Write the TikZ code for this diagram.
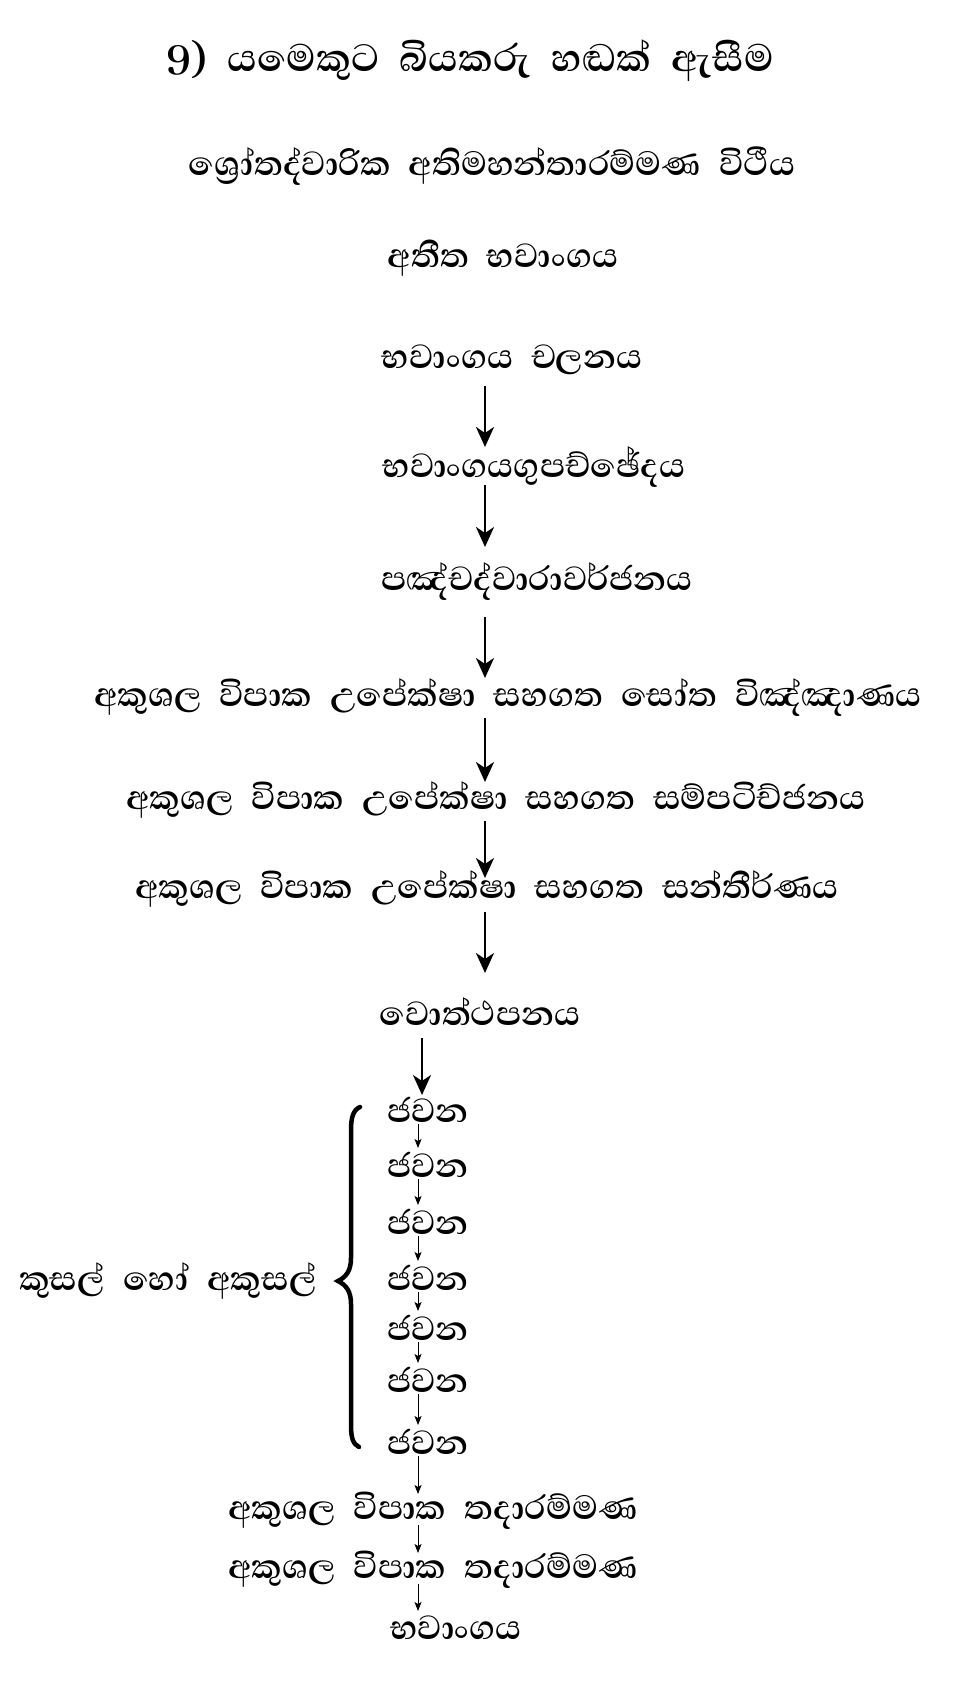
\documentclass[tikz,border=0pt]{standalone}
\usepackage{fontspec}
\setmainfont[Script=Sinhala, WordSpace=2.2]{Abhaya Libre}
\usetikzlibrary{arrows.meta}
\begin{document}
\begin{tikzpicture}[x=1pt,y=-1pt,
  lbl/.style={inner sep=0pt, anchor=center, font=\fontsize{43}{50}\selectfont\bfseries},
  ttl/.style={inner sep=0pt, anchor=center, font=\fontsize{49}{56}\selectfont\bfseries},
  sttl/.style={inner sep=0pt, anchor=center, font=\fontsize{43}{50}\selectfont\bfseries},
  thickarr/.style={line width=2.6pt, -{Stealth[length=20pt,width=18pt,inset=6pt]}},
  thinarr/.style={line width=0.9pt, -{Stealth[length=9pt,width=7pt,inset=2pt]}}]
\useasboundingbox[fill=white] (0,0) rectangle (963,1683);
\coordinate (colA) at (485,0);
\coordinate (colJ) at (422,0);
\coordinate (colB) at (418,0);
\node[ttl] (title) at (470,61) {9) යමෙකුට බියකරු හඬක් ඇසීම};
\node[sttl] (sub) at (492,166) {ශ්‍රෝතද්වාරික අතිමහන්තාරම්මණ විථීය};
\node[lbl] (atita) at (503,258) {අතීත භවාංගය};
\node[lbl] (calana) at (512,360) {භවාංගය චලනය};
\node[lbl] (upac) at (534,467) {භවාංගයගුපච්ඡේදය};
\node[lbl] (avaj) at (537,582) {පඤ්චද්වාරාවර්ජනය};
\node[lbl] (sota) at (508,698) {අකුශල විපාක උපේක්ෂා සහගත සෝත විඤ්ඤාණය};
\node[lbl] (samp) at (496,800) {අකුශල විපාක උපේක්ෂා සහගත සම්පටිච්ජනය};
\node[lbl] (sant) at (487,889) {අකුශල විපාක උපේක්ෂා සහගත සන්තීර්ණය};
\node[lbl] (vott) at (480,1012) {වොත්ථපනය};
\node[lbl] (j1) at (428,1110) {ජවන};
\node[lbl] (j2) at (428,1165) {ජවන};
\node[lbl] (j3) at (428,1222) {ජවන};
\node[lbl] (j4) at (428,1278) {ජවන};
\node[lbl] (j5) at (428,1328) {ජවන};
\node[lbl] (j6) at (428,1380) {ජවන};
\node[lbl] (j7) at (428,1442) {ජවන};
\node[lbl] (tad1) at (433,1511) {අකුශල විපාක තදාරම්මණ};
\node[lbl] (tad2) at (433,1570) {අකුශල විපාක තදාරම්මණ};
\node[lbl] (bhav) at (456,1628) {භවාංගය};
\node[lbl] (kus) at (168,1281) {කුසල් හෝ අකුසල්};
% thick arrows
\draw[thickarr, shorten <=26pt, shorten >=20pt] (calana -| colA) -- (upac -| colA);
\draw[thickarr, shorten <=18pt, shorten >=35pt] (upac -| colA) -- (avaj -| colA);
\draw[thickarr, shorten <=35pt, shorten >=20pt] (avaj -| colA) -- (sota -| colA);
\draw[thickarr, shorten <=20pt, shorten >=18pt] (sota -| colA) -- (samp -| colA);
\draw[thickarr, shorten <=21pt, shorten >=11pt] (samp -| colA) -- (sant -| colA);
\draw[thickarr, shorten <=23pt, shorten >=39pt] (sant -| colA) -- (vott -| colA);
\draw[thickarr, shorten <=26pt, shorten >=15pt] (vott -| colJ) -- (j1 -| colJ);
% thin arrows
\foreach \a/\b in {j1/j2,j2/j3,j3/j4,j4/j5,j5/j6,j6/j7,j7/tad1,tad1/tad2,tad2/bhav}
  \draw[thinarr, shorten <=14pt, shorten >=17pt] (\a -| colB) -- (\b -| colB);
% brace
\draw[line width=4.5pt, line cap=round] (360,1107) .. controls (353,1110) and (351,1118) .. (351,1130) -- (351,1258) .. controls (351,1271) and (346,1277) .. (338,1281) .. controls (346,1285) and (351,1291) .. (351,1304) -- (351,1425) .. controls (351,1438) and (353,1444) .. (359,1447);
\end{tikzpicture}
\end{document}
